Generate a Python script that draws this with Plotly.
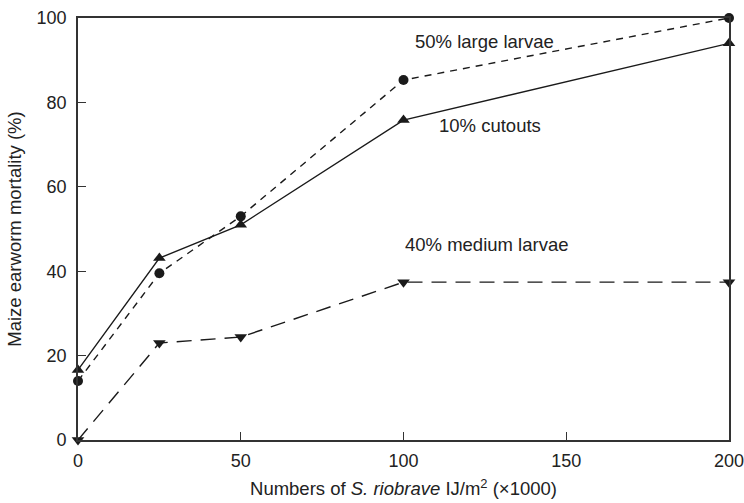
import plotly.graph_objects as go

# Nematode dose (thousands of IJ per m^2)
doses = [0, 25, 50, 100, 200]

# Mortality (%) per larval population
large_larvae = [14, 39.5, 53, 85.3, 100]
cutouts = [16.6, 43.1, 51, 75.8, 94]
medium_larvae = [0, 23, 24.4, 37.4, 37.4]

x_ticks = [0, 50, 100, 150, 200]
y_ticks = [0, 20, 40, 60, 80, 100]

ink = "#1a1a1a"
font_family = "Liberation Sans, Arial, sans-serif"

fig = go.Figure()

fig.add_trace(go.Scatter(
    x=doses, y=large_larvae, mode="lines+markers",
    line=dict(color=ink, width=1.4, dash="7px,6px"),
    marker=dict(symbol="circle", size=10, color=ink),
    cliponaxis=False, showlegend=False,
))
fig.add_trace(go.Scatter(
    x=doses, y=cutouts, mode="lines+markers",
    line=dict(color=ink, width=1.4),
    marker=dict(symbol="triangle-up", size=11, color=ink),
    cliponaxis=False, showlegend=False,
))
fig.add_trace(go.Scatter(
    x=doses, y=medium_larvae, mode="lines+markers",
    line=dict(color=ink, width=1.4, dash="15px,9px"),
    marker=dict(symbol="triangle-down", size=11, color=ink),
    cliponaxis=False, showlegend=False,
))

labels = [
    ("50% large larvae", 125, 94.5),
    ("10% cutouts", 126.5, 74.6),
    ("40% medium larvae", 125.5, 46.3),
]
for text, x, y in labels:
    fig.add_annotation(x=x, y=y, text=text, showarrow=False,
                       font=dict(size=18.5, color="#222", family=font_family))

axis_common = dict(
    showline=True, linecolor="#333", linewidth=1.6, mirror=True,
    ticks="inside", ticklen=8, tickwidth=1.4, tickcolor="#333",
    showgrid=False, zeroline=False, automargin=False,
    ticklabeloverflow="allow",
    tickfont=dict(size=18, color="#222", family=font_family),
)

fig.update_xaxes(
    range=[0, 200], tickvals=x_ticks, ticklabelstandoff=4, **axis_common,
    title=dict(text="Numbers of <i>S. riobrave</i> IJ/m<sup>2</sup> (\u00d71000)",
               font=dict(size=18.5, color="#222", family=font_family),
               standoff=12),
)
fig.update_yaxes(
    range=[0, 100], tickvals=y_ticks, ticklabelstandoff=6, **axis_common,
    title=dict(text="Maize earworm mortality (%)",
               font=dict(size=18.5, color="#222", family=font_family),
               standoff=10),
)

fig.update_layout(
    width=744, height=503,
    margin=dict(l=78, r=15, t=18, b=63),
    plot_bgcolor="white", paper_bgcolor="white",
)

fig.write_html("out.html")
